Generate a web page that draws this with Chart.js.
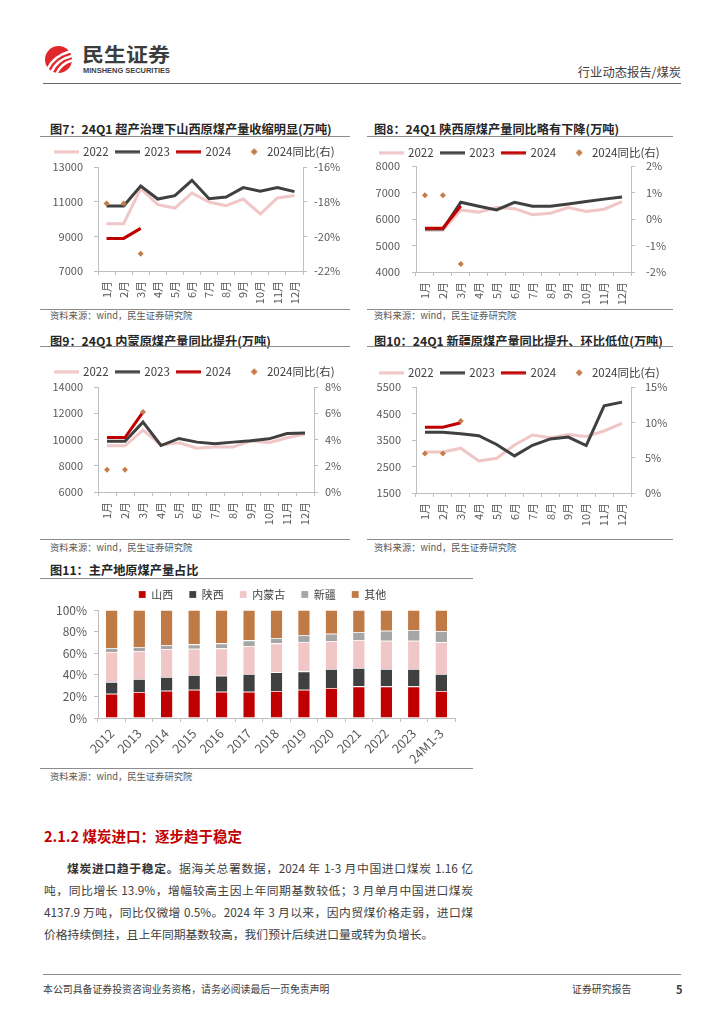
<!DOCTYPE html>
<html lang="zh-CN"><head><meta charset="utf-8">
<script src="https://cdn.jsdelivr.net/npm/chart.js@4.4.1/dist/chart.umd.min.js"></script>
<style>
html,body{margin:0;padding:0;background:#fff}
body{width:724px;height:1024px;position:relative;overflow:hidden;font-family:'Noto Sans CJK SC','Noto Sans',sans-serif}
.t{position:absolute;white-space:nowrap;line-height:1}
.ttl{font-size:12.2px;font-weight:bold;color:#262626}
.src{font-size:9.3px;color:#595959}
.hl{position:absolute;height:0;border-top:1.2px solid #8c8c8c}
.p{position:absolute;font-size:11.8px;line-height:1;color:#404040;text-align:justify;text-align-last:justify}
canvas{position:absolute}
</style></head><body>

<svg style="position:absolute;left:0;top:0" width="724" height="90">
  <circle cx="58.5" cy="59.5" r="13.5" fill="#e0282c"/>
  <path d="M47.5 69 C51 61 58 55 69.5 51.5" stroke="#fff" stroke-width="2.6" fill="none" stroke-linecap="round"/>
  <path d="M51.5 72 C55 64 61.5 58.5 71.5 56" stroke="#fff" stroke-width="2.6" fill="none" stroke-linecap="round"/>
  <path d="M56.5 73.5 C59.5 67 64.5 62.5 72 60.5" stroke="#fff" stroke-width="2.4" fill="none" stroke-linecap="round"/>
  <text x="82" y="61.5" font-size="19.5" font-weight="bold" fill="#3d3d3d" textLength="88" lengthAdjust="spacingAndGlyphs" font-family="Noto Sans CJK SC">民生证券</text>
  <text x="83" y="72.5" font-size="7.2" font-weight="bold" fill="#3d3d3d" textLength="87" lengthAdjust="spacingAndGlyphs" font-family="Liberation Sans">MINSHENG SECURITIES</text>
</svg>
<div class="t" style="right:43px;top:66px;font-size:12.3px;color:#404040">行业动态报告/煤炭</div>
<div class="hl" style="left:43px;top:82.5px;width:638px;border-top:1.3px solid #666"></div>

<!-- Figure titles, rules, sources -->
<div class="t ttl" style="left:50px;top:123px">图7：24Q1 超产治理下山西原煤产量收缩明显(万吨)</div>
<div class="hl" style="left:40px;top:135.5px;width:310px"></div>
<div class="hl" style="left:40px;top:308.5px;width:310px"></div>
<div class="t src" style="left:50px;top:311px">资料来源：wind，民生证券研究院</div>

<div class="t ttl" style="left:374px;top:123px">图8：24Q1 陕西原煤产量同比略有下降(万吨)</div>
<div class="hl" style="left:367px;top:135.5px;width:306px"></div>
<div class="hl" style="left:367px;top:308.5px;width:306px"></div>
<div class="t src" style="left:374px;top:311px">资料来源：wind，民生证券研究院</div>

<div class="t ttl" style="left:50px;top:334.5px">图9：24Q1 内蒙原煤产量同比提升(万吨)</div>
<div class="hl" style="left:40px;top:346px;width:310px"></div>
<div class="hl" style="left:40px;top:538.5px;width:310px"></div>
<div class="t src" style="left:50px;top:543px">资料来源：wind，民生证券研究院</div>

<div class="t ttl" style="left:374px;top:334.5px">图10：24Q1 新疆原煤产量同比提升、环比低位(万吨)</div>
<div class="hl" style="left:367px;top:346px;width:306px"></div>
<div class="hl" style="left:367px;top:538.5px;width:306px"></div>
<div class="t src" style="left:374px;top:543px">资料来源：wind，民生证券研究院</div>

<div class="t ttl" style="left:50px;top:563.5px">图11：主产地原煤产量占比</div>
<div class="hl" style="left:40px;top:577.5px;width:433px"></div>
<div class="hl" style="left:40px;top:767.5px;width:433px"></div>
<div class="t src" style="left:50px;top:771.5px">资料来源：wind，民生证券研究院</div>

<!-- Text section -->
<div class="t" style="left:44px;top:829px;font-size:14.5px;font-weight:bold;color:#c00000">2.1.2 煤炭进口：逐步趋于稳定</div>
<div class="p" style="left:67px;top:861.5px;width:406px"><b style="color:#333">煤炭进口趋于稳定。</b>据海关总署数据，2024 年 1-3 月中国进口煤炭 1.16 亿</div>
<div class="p" style="left:44px;top:884px;width:429px">吨，同比增长 13.9%，增幅较高主因上年同期基数较低；3 月单月中国进口煤炭</div>
<div class="p" style="left:44px;top:906px;width:429px">4137.9 万吨，同比仅微增 0.5%。2024 年 3 月以来，因内贸煤价格走弱，进口煤</div>
<div class="p" style="left:44px;top:927.5px;width:429px;text-align:left;text-align-last:left">价格持续倒挂，且上年同期基数较高，我们预计后续进口量或转为负增长。</div>

<div class="hl" style="left:43px;top:973.5px;width:638px;border-top:1px solid #8c8c8c"></div>
<div class="t" style="left:43px;top:984.5px;font-size:9.9px;color:#404040">本公司具备证券投资咨询业务资格，请务必阅读最后一页免责声明</div>
<div class="t" style="left:572px;top:984.5px;font-size:9.9px;color:#404040">证券研究报告</div>
<div class="t" style="left:676px;top:984px;font-size:11px;font-weight:bold;color:#404040">5</div>

<script>
// ---------------- DATA ----------------
const MONTHS = ['1月','2月','3月','4月','5月','6月','7月','8月','9月','10月','11月','12月'];
const SERIES_NAMES = ['2022','2023','2024','2024同比(右)'];

// 图7 山西 (万吨, 同比%)
const shanxi2022 = [9730,9730,11750,10830,10630,11500,10980,10770,11150,10290,11210,11350];
const shanxi2023 = [10750,10750,11900,11150,11350,12230,11170,11270,11810,11600,11810,11580];
const shanxi2024 = [8880,8880,9460];
const shanxiYoy  = [-18.1,-18.1,-21.0];

// 图8 陕西
const shaanxi2022 = [5580,5580,6340,6260,6430,6390,6160,6220,6430,6280,6370,6660];
const shaanxi2023 = [5620,5620,6630,6480,6340,6630,6480,6480,6570,6660,6750,6830];
const shaanxi2024 = [5650,5650,6490];
const shaanxiYoy  = [0.9,0.9,-1.7];

// 图9 内蒙
const nm2022 = [9520,9520,10710,9590,9750,9340,9420,9420,9900,9750,10130,10410];
const nm2023 = [9870,9870,11320,9540,10080,9800,9670,9800,9900,10050,10460,10490];
const nm2024 = [10150,10150,12080];
const nmYoy  = [1.7,1.7,6.1];

// 图10 新疆
const xj2022 = [3050,3050,3190,2710,2810,3310,3690,3590,3710,3630,3840,4130];
const xj2023 = [3790,3790,3740,3660,3330,2900,3300,3540,3610,3290,4790,4930];
const xj2024 = [3980,3980,4150];
const xjYoy  = [5.6,5.6,10.2];

// 图11 主产地原煤产量占比 (%)
const YEARS = ['2012','2013','2014','2015','2016','2017','2018','2019','2020','2021','2022','2023','24M1-3'];
const REGIONS = ['山西','陕西','内蒙古','新疆','其他'];
const shareShanxi  = [22.5,24.1,25.3,26.2,24.4,24.4,25.0,26.2,27.8,29.3,29.3,29.3,25.0];
const shareShaanxi = [10.8,12.0,12.7,13.6,14.8,16.3,17.3,17.0,17.6,17.0,16.1,16.1,15.7];
const shareNeimeng = [27.8,25.9,25.9,24.4,25.3,26.0,26.8,27.2,25.9,25.9,26.2,26.2,29.4];
const shareXinjiang= [3.7,3.7,3.7,4.0,4.6,5.2,5.0,6.5,6.8,7.4,9.3,9.9,10.5];
const shareOther   = [35.2,34.3,32.4,31.8,30.9,28.1,25.9,23.1,21.9,20.4,19.1,18.5,19.4];

// ---------------- STYLE ----------------
const PINK='#f0c6c6', DARK='#404040', RED='#c00000', BROWN='#c47d48', GRAY='#a6a6a6';
const AX='#bfbfbf', TK='#595959';
Chart.defaults.font.family = "'Noto Sans CJK SC','Noto Sans',sans-serif";
Chart.defaults.color = TK;

function lineIcon(color){
  const c=document.createElement('canvas'); c.width=25; c.height=4;
  const x=c.getContext('2d'); x.fillStyle=color; x.fillRect(0,0.5,25,3); return c;
}
function diamondIcon(color){
  const c=document.createElement('canvas'); c.width=22; c.height=8;
  const x=c.getContext('2d'); x.fillStyle=color; x.beginPath();
  x.moveTo(15,0.5); x.lineTo(18.5,4); x.lineTo(15,7.5); x.lineTo(11.5,4); x.closePath(); x.fill(); return c;
}
const LINE_ICONS = [lineIcon(PINK), lineIcon(DARK), lineIcon(RED), diamondIcon(BROWN)];

function legendFix(h){
  return { id:'legendFix', beforeLayout(chart){
    const lg = chart.legend;
    if (lg && !lg._fixed){ const f = lg.fit; lg.fit = function(){ f.call(this); this.height = h; }; lg._fixed = true; }
  }};
}

function makeCanvas(left, top, w, h){
  const c=document.createElement('canvas'); c.width=w; c.height=h;
  c.style.left=left+'px'; c.style.top=top+'px'; c.style.width=w+'px'; c.style.height=h+'px';
  document.body.appendChild(c); return c;
}

function lineChart(o){
  const lfs=11.5, lpad=8;
  const top = Math.round(o.legendY - lpad - lfs/2);
  const h = o.bottom - top;
  const cv = makeCanvas(o.left, top, o.width, h);
  const lw = o.plotLeft - o.left, rw = o.left + o.width - o.plotRight;
  const xh = o.bottom - o.plotBottom, lh = o.plotTop - top;
  new Chart(cv, {
    type:'line',
    data:{ labels:MONTHS, datasets:[
      {label:SERIES_NAMES[0], data:o.s[0], borderColor:PINK, backgroundColor:PINK, borderWidth:3, pointRadius:0, tension:0, yAxisID:'y', order:4},
      {label:SERIES_NAMES[1], data:o.s[1], borderColor:DARK, backgroundColor:DARK, borderWidth:3, pointRadius:0, tension:0, yAxisID:'y', order:3},
      {label:SERIES_NAMES[2], data:o.s[2], borderColor:RED, backgroundColor:RED, borderWidth:3, pointRadius:0, tension:0, yAxisID:'y', order:2},
      {label:SERIES_NAMES[3], data:o.s[3], showLine:false, pointStyle:'rectRot', pointRadius:3, backgroundColor:BROWN, borderColor:BROWN, borderWidth:0, yAxisID:'y1', order:1}
    ]},
    options:{
      responsive:false, animation:false, devicePixelRatio:1, events:[],
      layout:{padding:0},
      plugins:{
        tooltip:{enabled:false},
        legend:{ position:'top', labels:{
          usePointStyle:true, pointStyleWidth:22, padding:lpad, color:'#404040', font:{size:lfs},
          sort:(a,b)=>a.datasetIndex-b.datasetIndex,
          generateLabels:(chart)=>Chart.defaults.plugins.legend.labels.generateLabels(chart).map(l=>Object.assign(l,{pointStyle:LINE_ICONS[l.datasetIndex]}))
        }}
      },
      scales:{
        x:{ offset:true, grid:{offset:true, drawOnChartArea:false, drawTicks:true, tickLength:4, color:AX},
            border:{color:AX}, ticks:{autoSkip:false, minRotation:90, maxRotation:90, padding:6, color:TK, font:{size:11}},
            afterFit(s){ s.height = xh; } },
        y:{ position:'left', min:o.y[0], max:o.y[1], ticks:{stepSize:o.y[2], callback:v=>String(v), padding:o.lp, color:TK, font:{size:11}},
            grid:{drawOnChartArea:false, tickLength:4, color:AX}, border:{color:AX}, afterFit(s){ s.width = lw; } },
        y1:{ position:'right', min:o.r[0], max:o.r[1], ticks:{stepSize:o.r[2], callback:v=>v+'%', padding:o.rp, color:TK, font:{size:11}},
            grid:{drawOnChartArea:false, tickLength:4, color:AX}, border:{color:AX}, afterFit(s){ s.width = rw; } }
      }
    },
    plugins:[legendFix(lh)]
  });
}

lineChart({left:40, width:310, bottom:306, legendY:152, plotLeft:98, plotRight:303, plotTop:167, plotBottom:271,
  s:[shanxi2022, shanxi2023, shanxi2024, shanxiYoy], y:[7000,13000,2000], r:[-22,-16,2], lp:11, rp:7});
lineChart({left:365, width:310, bottom:306, legendY:153, plotLeft:416, plotRight:631, plotTop:166, plotBottom:272,
  s:[shaanxi2022, shaanxi2023, shaanxi2024, shaanxiYoy], y:[4000,8000,1000], r:[-2,2,1], lp:12, rp:11});
lineChart({left:40, width:310, bottom:531, legendY:372, plotLeft:98, plotRight:314, plotTop:387, plotBottom:492,
  s:[nm2022, nm2023, nm2024, nmYoy], y:[6000,14000,2000], r:[0,8,2], lp:11, rp:7});
lineChart({left:365, width:310, bottom:531, legendY:373, plotLeft:416, plotRight:631, plotTop:387, plotBottom:493,
  s:[xj2022, xj2023, xj2024, xjYoy], y:[1500,5500,1000], r:[0,15,5], lp:11, rp:10});

// ---- 图11 stacked bar ----
(function(){
  const lfs=11, lpad=16, legendY=594;
  const top = Math.round(legendY - lpad - lfs/2);
  const left=40, width=445, bottom=765, plotLeft=98, plotRight=455, plotTop=610, plotBottom=718;
  const cv = makeCanvas(left, top, width, bottom-top);
  const colors=[RED, DARK, PINK, GRAY, '#c07a45'];
  const vals=[shareShanxi, shareShaanxi, shareNeimeng, shareXinjiang, shareOther];
  new Chart(cv, {
    type:'bar',
    data:{ labels:YEARS, datasets: REGIONS.map((n,i)=>({label:n, data:vals[i], backgroundColor:colors[i],
      borderColor:'#ffffff', borderWidth:{top:0.8,left:0,right:0,bottom:0}, borderSkipped:false,
      barPercentage:0.42, categoryPercentage:1, yAxisID:'y'})) },
    options:{
      responsive:false, animation:false, devicePixelRatio:1, events:[],
      layout:{padding:0},
      plugins:{ tooltip:{enabled:false},
        legend:{position:'top', labels:{boxWidth:7, boxHeight:7, padding:lpad, color:'#404040', font:{size:lfs}}}},
      scales:{
        x:{ stacked:true, grid:{offset:true, drawOnChartArea:false, tickLength:4, color:AX}, border:{color:AX},
            ticks:{autoSkip:false, minRotation:45, maxRotation:45, padding:4, color:TK, font:{size:12.5}},
            afterFit(s){ s.height = bottom - plotBottom; } },
        y:{ stacked:true, min:0, max:100, ticks:{stepSize:20, callback:v=>v+'%', padding:7, color:TK, font:{size:12}},
            grid:{drawOnChartArea:false, tickLength:4, color:AX}, border:{color:AX}, afterFit(s){ s.width = plotLeft-left; } },
        yPad:{ position:'right', display:true, grid:{display:false}, border:{display:false}, ticks:{display:false},
            afterFit(s){ s.width = left + width - plotRight; } }
      }
    },
    plugins:[legendFix(plotTop-top)]
  });
})();
</script>
</body></html>
